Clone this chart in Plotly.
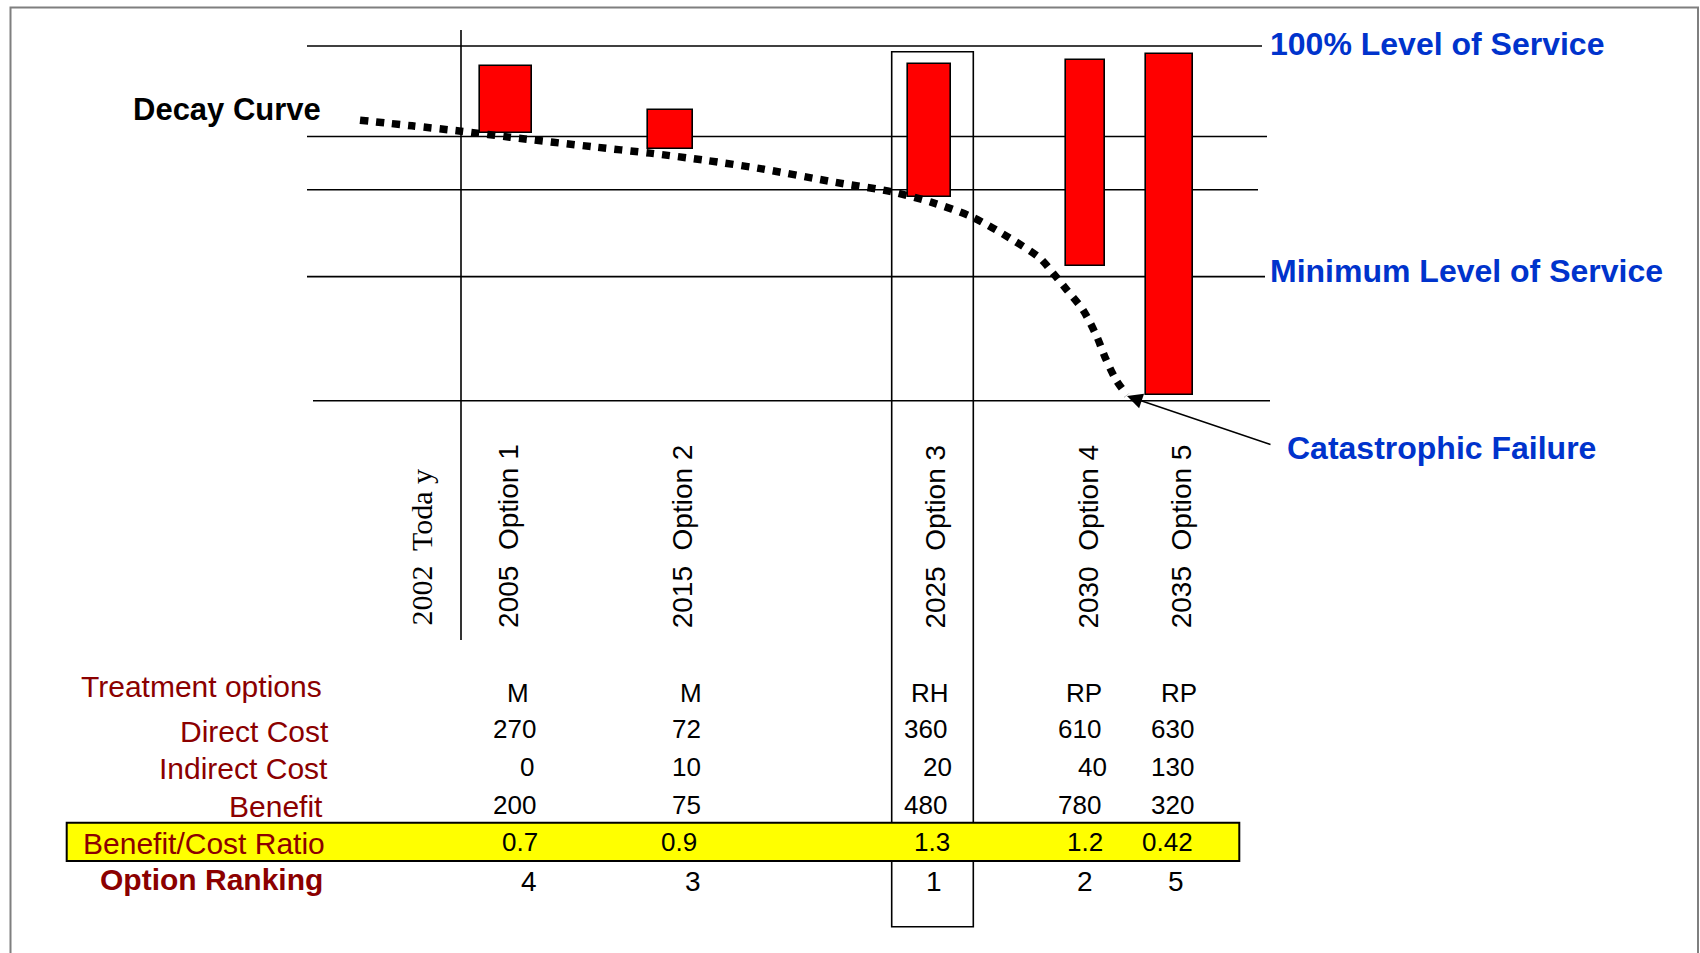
import plotly.graph_objects as go

# ---------------- data ----------------
years = [2005, 2015, 2025, 2030, 2035]
option_names = ["Option 1", "Option 2", "Option 3", "Option 4", "Option 5"]
today_label = "2002  Toda y"

treatments = ["M", "M", "RH", "RP", "RP"]
direct_cost = [270, 72, 360, 610, 630]
indirect_cost = [0, 10, 20, 40, 130]
benefit = [200, 75, 480, 780, 320]
bc_ratio = [0.7, 0.9, 1.3, 1.2, 0.42]
ranking = [4, 3, 1, 2, 5]
row_labels = ["Treatment options", "Direct Cost", "Indirect Cost",
              "Benefit", "Benefit/Cost Ratio", "Option Ranking"]

# level of service (%) before / after each treatment option
los_before = [75.6, 71.1, 57.4, 38.0, 1.6]
los_after = [94.4, 82.0, 94.9, 96.1, 97.7]

# reference service levels (%)
service_levels = [100, 74.5, 59.5, 35, 0]

# decay curve: timeline position vs level of service (%)
decay_t = [360, 412, 461, 510, 596, 650, 705, 759, 835, 892, 931, 972,
           1013, 1040, 1053, 1067, 1083, 1097, 1105, 1116, 1127]
decay_los = [79.1, 77.5, 76.0, 74.3, 71.5, 69.8, 67.8, 65.5, 61.6, 58.9, 56.0,
             51.8, 45.3, 40.2, 36.0, 31.2, 25.6, 18.0, 12.3, 5.9, 1.6]

# ---------------- layout constants ----------------
W, H = 1700, 953
ZERO_PX = 400.8          # vertical page position of 0 % service
PX_PER_PCT = 3.548       # page pixels per 1 % of service
Y_RANGE = [(ZERO_PX - H) / PX_PER_PCT, ZERO_PX / PX_PER_PCT]


def py(v):
    """page pixel row -> paper fraction"""
    return 1 - v / H


def los_at(v):
    """page pixel row -> level-of-service axis value"""
    return (ZERO_PX - v) / PX_PER_PCT


SANS = "Arial, Liberation Sans, sans-serif"
SERIF = "Times New Roman, Liberation Serif, serif"
MAROON = "#8B0000"
BLUE = "#0033CC"

bar_x = [506, 670.3, 929.7, 1085.5, 1169.5]
bar_w = [52.5, 44.7, 43.4, 39, 47]
head_x = [508.6, 682, 935.3, 1088.3, 1181]
# right edge of each table cell, row by row
cell_right = [
    [529.3, 701.7, 949.3, 1101.7, 1196.7],
    [536, 700.7, 946.7, 1100.7, 1194],
    [534, 700.7, 952.3, 1106.7, 1194],
    [536, 700.7, 946.7, 1100.7, 1194],
    [538.3, 696.7, 950, 1102.7, 1192.7],
    [536.7, 701, 941.7, 1092.7, 1184],
]
level_x0 = [307, 307, 307, 307, 313]
level_x1 = [1262, 1267, 1258, 1265, 1270]
label_right = [321.7, 329.3, 327.7, 323.3, 325, 323.3]
label_cy = [686.3, 731.3, 768.9, 806.3, 843.6, 879.6]
value_cy = [692.7, 729.3, 767, 805, 841.7, 881]

fig = go.Figure()

# treatment bars: level of service restored by each option
fig.add_trace(go.Bar(
    x=bar_x, base=los_before,
    y=[a - b for a, b in zip(los_after, los_before)],
    width=bar_w,
    marker=dict(color="#FF0000", line=dict(color="black", width=1.6)),
    hoverinfo="skip", showlegend=False,
))

# decay curve
fig.add_trace(go.Scatter(
    x=decay_t, y=decay_los, mode="lines",
    line=dict(color="black", width=7.5, dash="8px,8px", shape="spline", smoothing=0.8),
    hoverinfo="skip", showlegend=False,
))

shapes = []
# outer frame
shapes.append(dict(type="rect", xref="x", yref="paper", x0=10.5, x1=1698,
                   y0=py(7.5), y1=-0.05, line=dict(color="#7f7f7f", width=2),
                   fillcolor="rgba(0,0,0,0)", layer="below"))
# service level lines
for lv, x0, x1 in zip(service_levels, level_x0, level_x1):
    shapes.append(dict(type="line", xref="x", yref="y", x0=x0, x1=x1, y0=lv, y1=lv,
                       line=dict(color="black", width=1.6), layer="below"))
# "today" line
shapes.append(dict(type="line", xref="x", yref="paper", x0=461, x1=461,
                   y0=py(30), y1=py(640), line=dict(color="black", width=1.6),
                   layer="below"))
# highlight box around the top-ranked option
best = ranking.index(1)
shapes.append(dict(type="rect", xref="x", yref="paper",
                   x0=bar_x[best] - 38, x1=bar_x[best] + 43.6,
                   y0=py(51.7), y1=py(926.7),
                   line=dict(color="black", width=1.6), fillcolor="rgba(0,0,0,0)",
                   layer="below"))
# benefit/cost ratio band
shapes.append(dict(type="rect", xref="x", yref="paper", x0=66.7, x1=1239.3,
                   y0=py(822.7), y1=py(861), fillcolor="#FFFF00",
                   line=dict(color="black", width=2), layer="below"))

ann = []


def text(x, y, s, size, color="black", bold=False, xanchor="left", family=SANS,
         angle=0, yanchor="middle"):
    ann.append(dict(x=x, y=y, xref="x", yref="paper", text=f"<b>{s}</b>" if bold else s,
                    showarrow=False, xanchor=xanchor, yanchor=yanchor, textangle=angle,
                    borderpad=0, borderwidth=0,
                    font=dict(family=family, size=size, color=color)))


# curve / level captions
text(132.8, py(110), "Decay Curve", 31, bold=True)
text(1270, py(43.9), "100% Level of Service", 32, BLUE, bold=True)
text(1270, py(270.6), "Minimum Level of Service", 32, BLUE, bold=True)
text(1287, py(448.4), "Catastrophic Failure", 32, BLUE, bold=True)

# arrow to the failure point
ann.append(dict(x=1127, y=los_at(396), xref="x", yref="y",
                ax=1272, ay=los_at(445), axref="x", ayref="y",
                text="", showarrow=True, arrowhead=2, arrowsize=2.2,
                arrowwidth=1.4, arrowcolor="black", standoff=0))

# vertical column headings
text(421.9, py(625), today_label, 30, family=SERIF, xanchor="center",
     angle=-90, yanchor="bottom")
for hx, yr, name in zip(head_x, years, option_names):
    text(hx, py(628.3), f"{yr}  {name}", 28, xanchor="center", angle=-90,
         yanchor="bottom")

# table row labels
for i, lab in enumerate(row_labels):
    text(label_right[i], py(label_cy[i]), lab, 30, MAROON,
         bold=(i == len(row_labels) - 1), xanchor="right")

# table values
rows = [treatments, direct_cost, indirect_cost, benefit,
        [f"{v:g}" for v in bc_ratio], ranking]
for r, vals in enumerate(rows):
    size = 28 if r == len(rows) - 1 else 26
    for c, v in enumerate(vals):
        text(cell_right[r][c], py(value_cy[r]), str(v), size, xanchor="right")

fig.update_layout(
    width=W, height=H, autosize=False,
    margin=dict(l=0, r=0, t=0, b=0),
    paper_bgcolor="white", plot_bgcolor="white",
    xaxis=dict(range=[0, W], visible=False, fixedrange=True),
    yaxis=dict(range=Y_RANGE, visible=False, fixedrange=True),
    shapes=shapes, annotations=ann, showlegend=False,
    bargap=0,
)

fig.write_html("out.html", config={"displayModeBar": False})
